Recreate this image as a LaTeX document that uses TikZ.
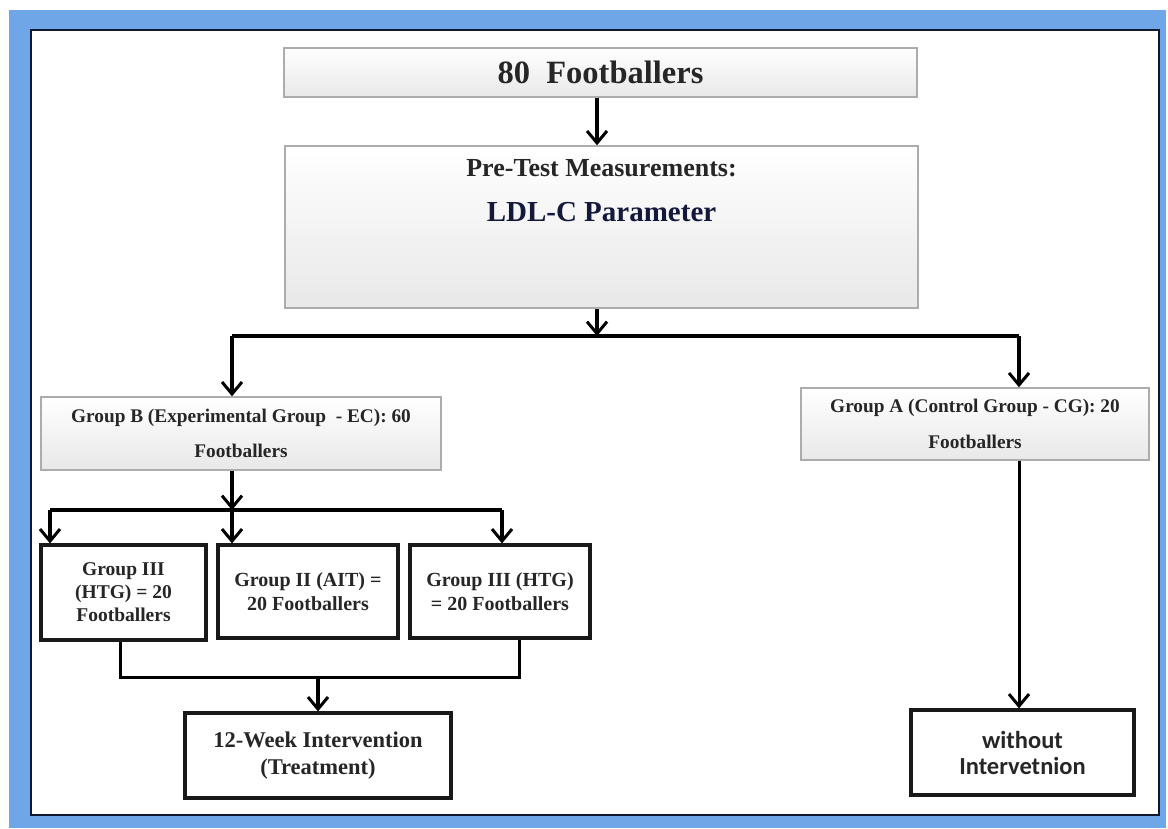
\documentclass[tikz,border=0pt]{standalone}
\usepackage{fontspec}
\setmainfont{Liberation Serif}
\newfontfamily\calfont{Carlito}
\usepackage{tikz}
\usetikzlibrary{arrows.meta, calc}
\definecolor{frameblue}{RGB}{111,166,232}
\definecolor{framedark}{RGB}{16,24,48}
\definecolor{ldlblue}{RGB}{20,25,60}

\begin{document}
\begin{tikzpicture}[x=1pt,y=-1pt]
      \tikzset{grey box/.style={draw=gray!65, line width=1.4pt,
          top color=white, bottom color=gray!18,
          inner sep=0pt, align=center, font=\bfseries, text=black!85},
        black box/.style={draw=black!90, line width=3.2pt, fill=white,
          inner sep=0pt, align=center, font=\bfseries, text=black!85},
        flow/.style={line width=3.6pt, -{Straight Barb[length=12pt,width=20pt,line width=3pt]}},
        merge line/.style={line width=3pt}
      }
      \useasboundingbox (0,0) rectangle (1168,828);
      \fill [frameblue] (9,10) rectangle (1166,828);
      \draw [framedark, line width=2.8pt, fill=white] (31,30) rectangle (1159,815);

      \node [grey box, minimum width=633, minimum height=49,
             font=\bfseries\fontsize{32.5}{36}\selectfont] (T) at (600.5,72.5) {80~~Footballers};
      \node [grey box, minimum width=633, minimum height=162] (P) at (601.5,227) {};
      \node [font=\bfseries\fontsize{26}{30}\selectfont, text=black!85] (Pa) at ($(P.north)+(0,23)$) {Pre-Test Measurements:};
      \node [font=\bfseries\fontsize{29}{33}\selectfont, text=ldlblue] (Pb) at ($(P.north)+(0,67)$) {LDL-C Parameter};

      \node [grey box, minimum width=400, minimum height=73,
             font=\bfseries\fontsize{19.3}{35}\selectfont] (GB) at (241,433.5)
             {Group B (Experimental Group~ - EC): 60\\Footballers};
      \node [grey box, minimum width=348, minimum height=72,
             font=\bfseries\fontsize{19.3}{36}\selectfont] (GA) at (975,424)
             {Group A (Control Group - CG): 20\\Footballers};

      \node [black box, minimum width=165, minimum height=95,
             font=\bfseries\fontsize{19.5}{23}\selectfont] (G3) at (123.5,592.5)
             {Group III\\(HTG) = 20\\Footballers};
      \node [black box, minimum width=180, minimum height=93,
             font=\bfseries\fontsize{20}{24}\selectfont] (G2) at (308,591.5)
             {Group II (AIT) =\\20 Footballers};
      \node [black box, minimum width=180, minimum height=93,
             font=\bfseries\fontsize{20}{24}\selectfont] (G3b) at (500,591.5)
             {Group III (HTG)\\= 20 Footballers};

      \node [black box, minimum width=266, minimum height=85,
             font=\bfseries\fontsize{22.5}{27}\selectfont] (W) at (318,755.5)
             {12-Week Intervention\\(Treatment)};
      \node [black box, minimum width=223, minimum height=85,
             font=\calfont\bfseries\fontsize{24.5}{26}\selectfont] (N) at (1022.5,752.5)
             {without\\Intervetnion};

      % split after pre-test
      \coordinate (S) at (597,336);
      \coordinate (SL) at (232,336);
      \coordinate (SR) at (1019,336);
      \draw [flow] (T.south -| S) -- (P.north -| S);
      \draw [flow] (P.south -| S) -- (S);
      \draw [line width=4.5pt] (SL) -- (SR);
      \draw [flow] (SL) -- (SL |- GB.north);
      \draw [flow] (SR) -- (SR |- GA.north);

      % split of group B
      \coordinate (B) at (232,510);
      \coordinate (BL) at (50,510);
      \coordinate (BR) at (502,510);
      \draw [flow] (GB.south -| B) -- (B);
      \draw [line width=4pt] (BL) -- (BR);
      \draw [flow] (BL) -- (BL |- G3.north);
      \draw [flow] (B) -- (B |- G2.north);
      \draw [flow] (BR) -- (BR |- G3b.north);

      % join into intervention
      \coordinate (J) at (318,677);
      \coordinate (JL) at (120,677);
      \coordinate (JR) at (519,677);
      \draw [merge line] (G3.south -| JL) -- (JL) -- (JR) -- (G3b.south -| JR);
      \draw [flow] (J) -- (W.north -| J);
      \draw [flow, line width=3pt] (GA.south -| SR) -- (N.north -| SR);
    \end{tikzpicture}
\end{document}
